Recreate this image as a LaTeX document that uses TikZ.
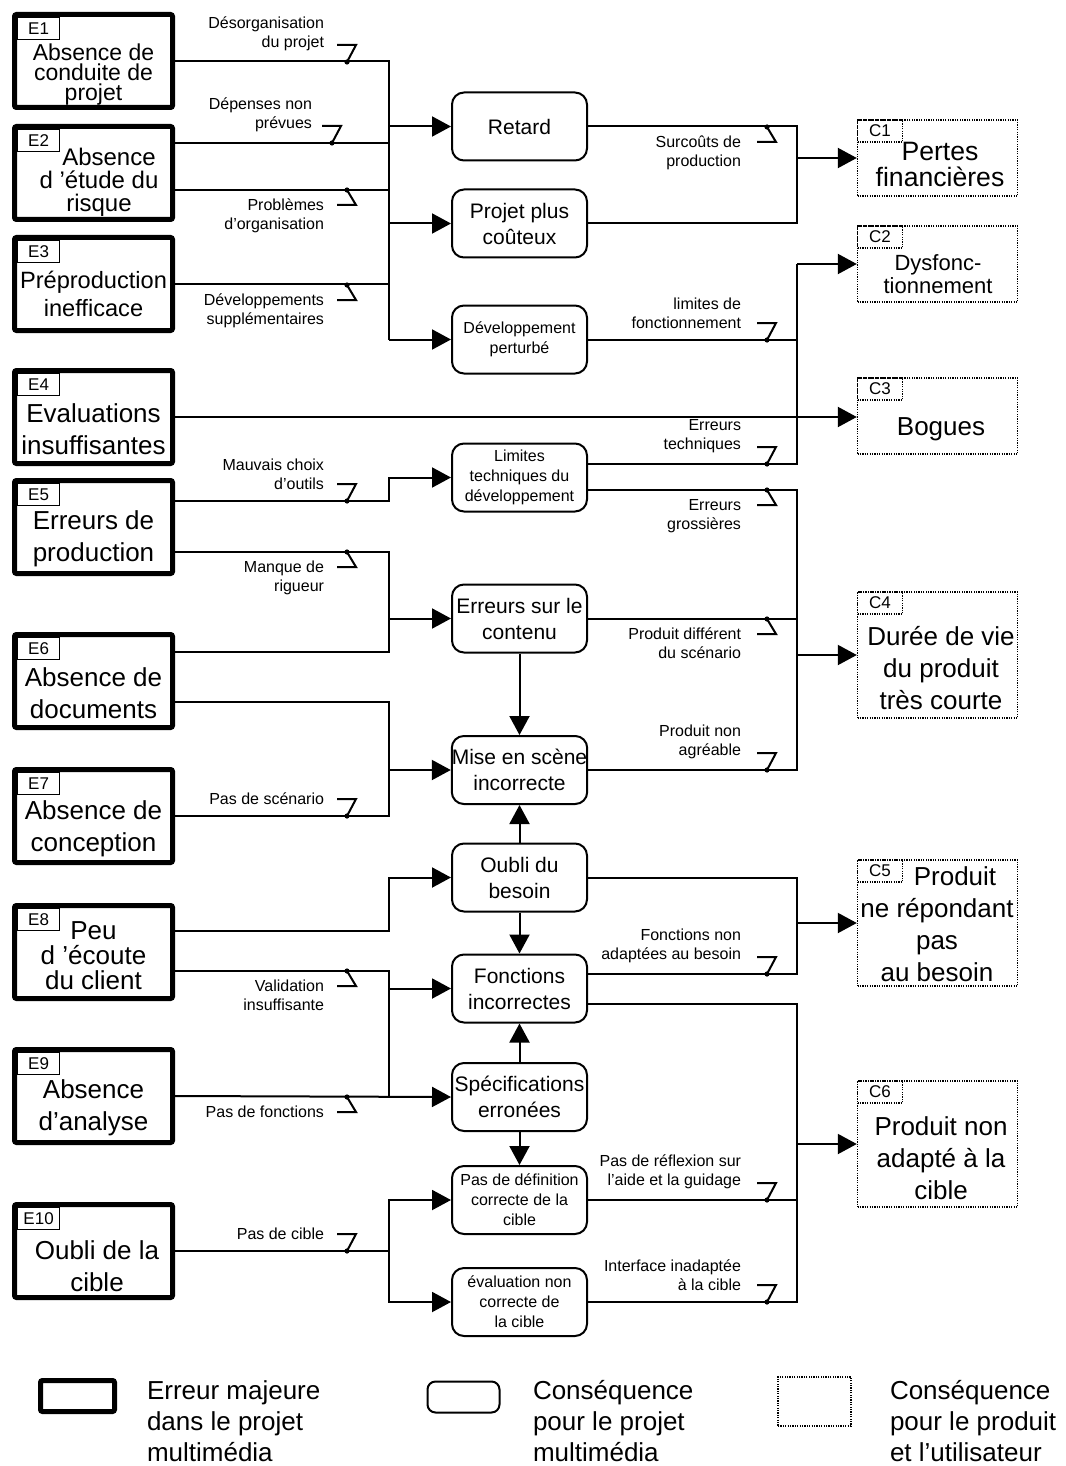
\documentclass[tikz,border=0pt]{standalone}
\usepackage{fontspec}
\setmainfont{Liberation Sans}
\usetikzlibrary{arrows.meta,calc}

\tikzset{
  erreur/.style={draw, line width=2.5pt, rounded corners=1pt, minimum width=79pt, minimum height=46.5pt, inner sep=0pt},
  etiq/.style={draw, line width=0.6pt, minimum width=21pt, minimum height=11pt, inner sep=0pt, anchor=north west, font=\fontsize{8.5}{10}\selectfont},
  etexte/.style={align=center, inner sep=0pt, font=\fontsize{13}{16}\selectfont},
  cons/.style={draw, rounded corners=6pt, minimum width=67.5pt, minimum height=34pt, inner sep=0pt, align=center, font=\fontsize{10.5}{13}\selectfont},
  petit/.style={font=\fontsize{8}{10}\selectfont},
  prod/.style={draw, line width=0.7pt, dash pattern=on 0.6pt off 0.6pt, minimum width=80pt, minimum height=38pt, inner sep=0pt},
  ptag/.style={prod, minimum width=22.5pt, minimum height=11pt, anchor=north west, font=\fontsize{8.5}{10}\selectfont},
  lab/.style={align=right, inner sep=0pt, font=\fontsize{8}{9.5}\selectfont},
  legtexte/.style={align=left, inner sep=0pt, anchor=west, font=\fontsize{13}{15.5}\selectfont},
  fleche/.style={-{Triangle[length=9.5pt,width=10pt]}},
  cutabove/.pic={\fill (0,0) circle (1.3pt); \draw (0,0) -- (9,-17) -- (-10,-17);},
  cutbelow/.pic={\fill (0,0) circle (1.3pt); \draw (0,0) -- (9,15) -- (-10,15);}
}

\begin{document}
\begin{tikzpicture}[x=0.5pt, y=-0.5pt, line width=1pt]
\useasboundingbox (0,0) rectangle (1065,1466);

% erreurs majeures
\node[erreur] (E1) at (93.5,61) {};
\node[erreur] (E2) at (93.5,173) {};
\node[erreur] (E3) at (93.5,284) {};
\node[erreur] (E4) at (93.5,417) {};
\node[erreur] (E5) at (93.5,527) {};
\node[erreur] (E6) at (93.5,681) {};
\node[erreur] (E7) at (93.5,816) {};
\node[erreur] (E8) at (93.5,952) {};
\node[erreur] (E9) at (93.5,1096) {};
\node[erreur] (E10) at (93.5,1251) {};
\foreach \i in {1,...,10}
  \node[etiq] (tagE\i) at ([shift={(2.5pt,-2.5pt)}]E\i.north west) {E\i};

\node[etexte, font=\fontsize{11.5}{10}\selectfont] (E1t) at (93.5,75) {Absence de\\conduite de\\projet};
\node[etexte, font=\fontsize{12}{11.5}\selectfont] (E2t) at (99,182) {\hspace*{10pt}Absence\\d ’étude du\\risque};
\node[etexte, font=\fontsize{11.8}{14}\selectfont] (E3t) at (93.5,294) {Préproduction\\inefficace};
\node[etexte] (E4t) at (93.5,429) {Evaluations\\insuffisantes};
\node[etexte] (E5t) at (93.5,539) {Erreurs de\\production};
\node[etexte] (E6t) at (93.5,693) {Absence de\\documents};
\node[etexte] (E7t) at (93.5,829) {Absence de\\conception};
\node[etexte, font=\fontsize{13}{12.5}\selectfont] (E8t) at (93.5,956) {Peu\\d ’écoute\\du client};
\node[etexte] (E9t) at (93.5,1108) {Absence\\d'analyse};
\node[etexte] (E10t) at (97,1266) {Oubli de la\\cible};

% consequences pour le projet
\node[cons] (retard) at (519.5,126.5) {Retard};
\node[cons] (cout) at (519.5,223.5) {Projet plus\\coûteux};
\node[cons, petit] (devpert) at (519.5,339.5) {Développement\\perturbé};
\node[cons, petit] (limtech) at (519.5,477.5) {Limites\\techniques du\\développement};
\node[cons] (contenu) at (519.5,618.5) {Erreurs sur le\\contenu};
\node[cons] (scene) at (519.5,770) {Mise en scène\\incorrecte};
\node[cons] (besoin) at (519.5,877.5) {Oubli du\\besoin};
\node[cons] (fonctions) at (519.5,988.5) {Fonctions\\incorrectes};
\node[cons] (specif) at (519.5,1097) {Spécifications\\erronées};
\node[cons, petit] (defcible) at (519.5,1200) {Pas de définition\\correcte de la\\cible};
\node[cons, petit] (evalcible) at (519.5,1302) {évaluation non\\correcte de\\la cible};

% consequences pour le produit
\node[prod] (C1) at (937.5,158) {};
\node[prod] (C2) at (937.5,264) {};
\node[prod] (C3) at (937.5,416) {};
\node[prod, minimum height=63pt] (C4) at (937.5,655) {};
\node[prod, minimum height=63pt] (C5) at (937.5,923) {};
\node[prod, minimum height=63pt] (C6) at (937.5,1144) {};
\foreach \i in {1,...,6}
  \node[ptag] (tagC\i) at (C\i.north west) {C\i};

\node[etexte, font=\fontsize{13.3}{13}\selectfont] (C1t) at (940,164) {Pertes\\financières};
\node[etexte, font=\fontsize{11}{11.5}\selectfont] (C2t) at (938,274.5) {Dysfonc-\\tionnement};
\node[etexte] (C3t) at (941,429) {Bogues};
\node[etexte] (C4t) at (941,668) {Durée de vie\\du produit\\très courte};
\node[etexte] (C5t) at (937,924) {\hspace*{18pt}Produit\\ne répondant\\pas\\au besoin};
\node[etexte] (C6t) at (941,1158) {Produit non\\adapté à la\\cible};

% bus et sorties
\coordinate (busL) at (389,0);
\coordinate (busR) at (797,0);
\coordinate (E2a) at ($(E2.east)+(0,-30)$);
\coordinate (E2b) at ($(E2.east)+(0,17)$);
\coordinate (E5a) at ($(E5.east)+(0,-26)$);
\coordinate (E5b) at ($(E5.east)+(0,25)$);
\coordinate (E6a) at ($(E6.east)+(0,-29)$);
\coordinate (E6b) at ($(E6.east)+(0,21)$);
\coordinate (E8a) at ($(E8.east)+(0,-21)$);
\coordinate (E8b) at ($(E8.east)+(0,19)$);
\coordinate (limA) at ($(limtech.east)+(0,-13.5)$);
\coordinate (limB) at ($(limtech.east)+(0,12.5)$);
\coordinate (foncA) at ($(fonctions.east)+(0,-14.5)$);
\coordinate (foncB) at ($(fonctions.east)+(0,15.5)$);

% cote gauche
\draw (E1.east) -| (busL |- devpert.west);
\draw (E2a) -- (E2a -| busL);
\draw (E2b) -- (E2b -| busL);
\draw (E3.east) -- (E3.east -| busL);
\draw[fleche] (busL |- retard.west) -- (retard.west);
\draw[fleche] (busL |- cout.west) -- (cout.west);
\draw[fleche] (busL |- devpert.west) -- (devpert.west);
\draw[fleche] (E4.east) -- (E4.east -| C3.west);
\draw[fleche] (E5a) -| (busL |- limtech.west) -- (limtech.west);
\draw (E5b) -| (busL |- E6a) -- (E6a);
\draw[fleche] (busL |- contenu.west) -- (contenu.west);
\draw (E6b) -| (busL |- E7.east) -- (E7.east);
\draw[fleche] (busL |- scene.west) -- (scene.west);
\draw[fleche] (E8a) -| (busL |- besoin.west) -- (besoin.west);
\draw (E8b) -| (busL |- E9.east);
\draw[fleche] (E9.east) -- (specif.west);
\draw[fleche] (busL |- fonctions.west) -- (fonctions.west);
\draw (E10.east) -- (E10.east -| busL);
\draw[fleche] (E10.east -| busL) |- (defcible.west);
\draw[fleche] (E10.east -| busL) |- (evalcible.west);

% enchainements verticaux
\draw[fleche] (contenu.south) -- (scene.north);
\draw[fleche] (besoin.north) -- (scene.south);
\draw[fleche] (besoin.south) -- (fonctions.north);
\draw[fleche] (specif.north) -- (fonctions.south);
\draw[fleche] (specif.south) -- (defcible.north);

% cote droit
\draw (retard.east) -| (busR |- cout.east) -- (cout.east);
\draw[fleche] (busR |- C1.west) -- (C1.west);
\draw (devpert.east) -- (devpert.east -| busR);
\draw (limA) -| (busR |- C2.west);
\draw[fleche] (busR |- C2.west) -- (C2.west);
\draw (limB) -| (busR |- scene.east) -- (scene.east);
\draw (contenu.east) -- (contenu.east -| busR);
\draw[fleche] (busR |- C4.west) -- (C4.west);
\draw (besoin.east) -| (busR |- foncA) -- (foncA);
\draw[fleche] (busR |- C5.west) -- (C5.west);
\draw (foncB) -| (busR |- evalcible.east) -- (evalcible.east);
\draw (defcible.east) -- (defcible.east -| busR);
\draw[fleche] (busR |- C6.west) -- (C6.west);

% ruptures et libelles
\pic at (347,62) {cutabove};
\node[lab, anchor=south east] (desorg) at (325,52) {Désorganisation\\du projet};
\pic at (332,143) {cutabove};
\node[lab, anchor=south east] (depenses) at (313,133) {Dépenses non\\prévues};
\pic at (347,190) {cutbelow};
\node[lab, anchor=north east] (orga) at (325,198) {Problèmes\\d'organisation};
\pic at (347,285) {cutbelow};
\node[lab, anchor=north east] (devsup) at (325,293) {Développements\\supplémentaires};
\pic at (347,501) {cutabove};
\node[lab, anchor=south east] (choix) at (325,491) {Mauvais choix\\d'outils};
\pic at (347,552) {cutbelow};
\node[lab, anchor=north east] (rigueur) at (325,560) {Manque de\\rigueur};
\pic at (347,816) {cutabove};
\node[lab, anchor=south east] (scenar) at (325,806) {Pas de scénario};
\pic at (347,971) {cutbelow};
\node[lab, anchor=north east] (valid) at (325,979) {Validation\\insuffisante};
\pic at (347,1097) {cutbelow};
\node[lab, anchor=north east] (pasfonc) at (325,1105) {Pas de fonctions};
\pic at (347,1251) {cutabove};
\node[lab, anchor=south east] (pascible) at (325,1241) {Pas de cible};

\pic at (767,127) {cutbelow};
\node[lab, anchor=north east] (surcout) at (742,135) {Surcoûts de\\production};
\pic at (767,340) {cutabove};
\node[lab, anchor=south east] (limfonc) at (742,330) {limites de\\fonctionnement};
\pic at (767,464) {cutabove};
\node[lab, anchor=south east] (errtech) at (742,454) {Erreurs\\techniques};
\pic at (767,490) {cutbelow};
\node[lab, anchor=north east] (errgros) at (742,498) {Erreurs\\grossières};
\pic at (767,619) {cutbelow};
\node[lab, anchor=north east] (proddiff) at (742,627) {Produit différent\\du scénario};
\pic at (767,770) {cutabove};
\node[lab, anchor=south east] (nonagr) at (742,760) {Produit non\\agréable};
\pic at (767,974) {cutabove};
\node[lab, anchor=south east] (fonadapt) at (742,964) {Fonctions non\\adaptées au besoin};
\pic at (767,1200) {cutabove};
\node[lab, anchor=south east] (reflex) at (742,1190) {Pas de réflexion sur\\l'aide et la guidage};
\pic at (767,1302) {cutabove};
\node[lab, anchor=south east] (interf) at (742,1292) {Interface inadaptée\\à la cible};

% legende
\node[erreur, minimum width=37pt, minimum height=15.5pt] (legE) at (77.5,1396) {};
\node[legtexte] (legEt) at (146,1421) {Erreur majeure\\dans le projet\\multimédia};
\node[cons, minimum width=36pt, minimum height=15.5pt, rounded corners=4pt] (legP) at (463.5,1397) {};
\node[legtexte] (legPt) at (532,1421) {Conséquence\\pour le projet\\multimédia};
\node[prod, minimum width=36.5pt, minimum height=24.5pt] (legC) at (814.5,1401.5) {};
\node[legtexte] (legCt) at (889,1421) {Conséquence\\pour le produit\\et l’utilisateur};
\end{tikzpicture}
\end{document}
